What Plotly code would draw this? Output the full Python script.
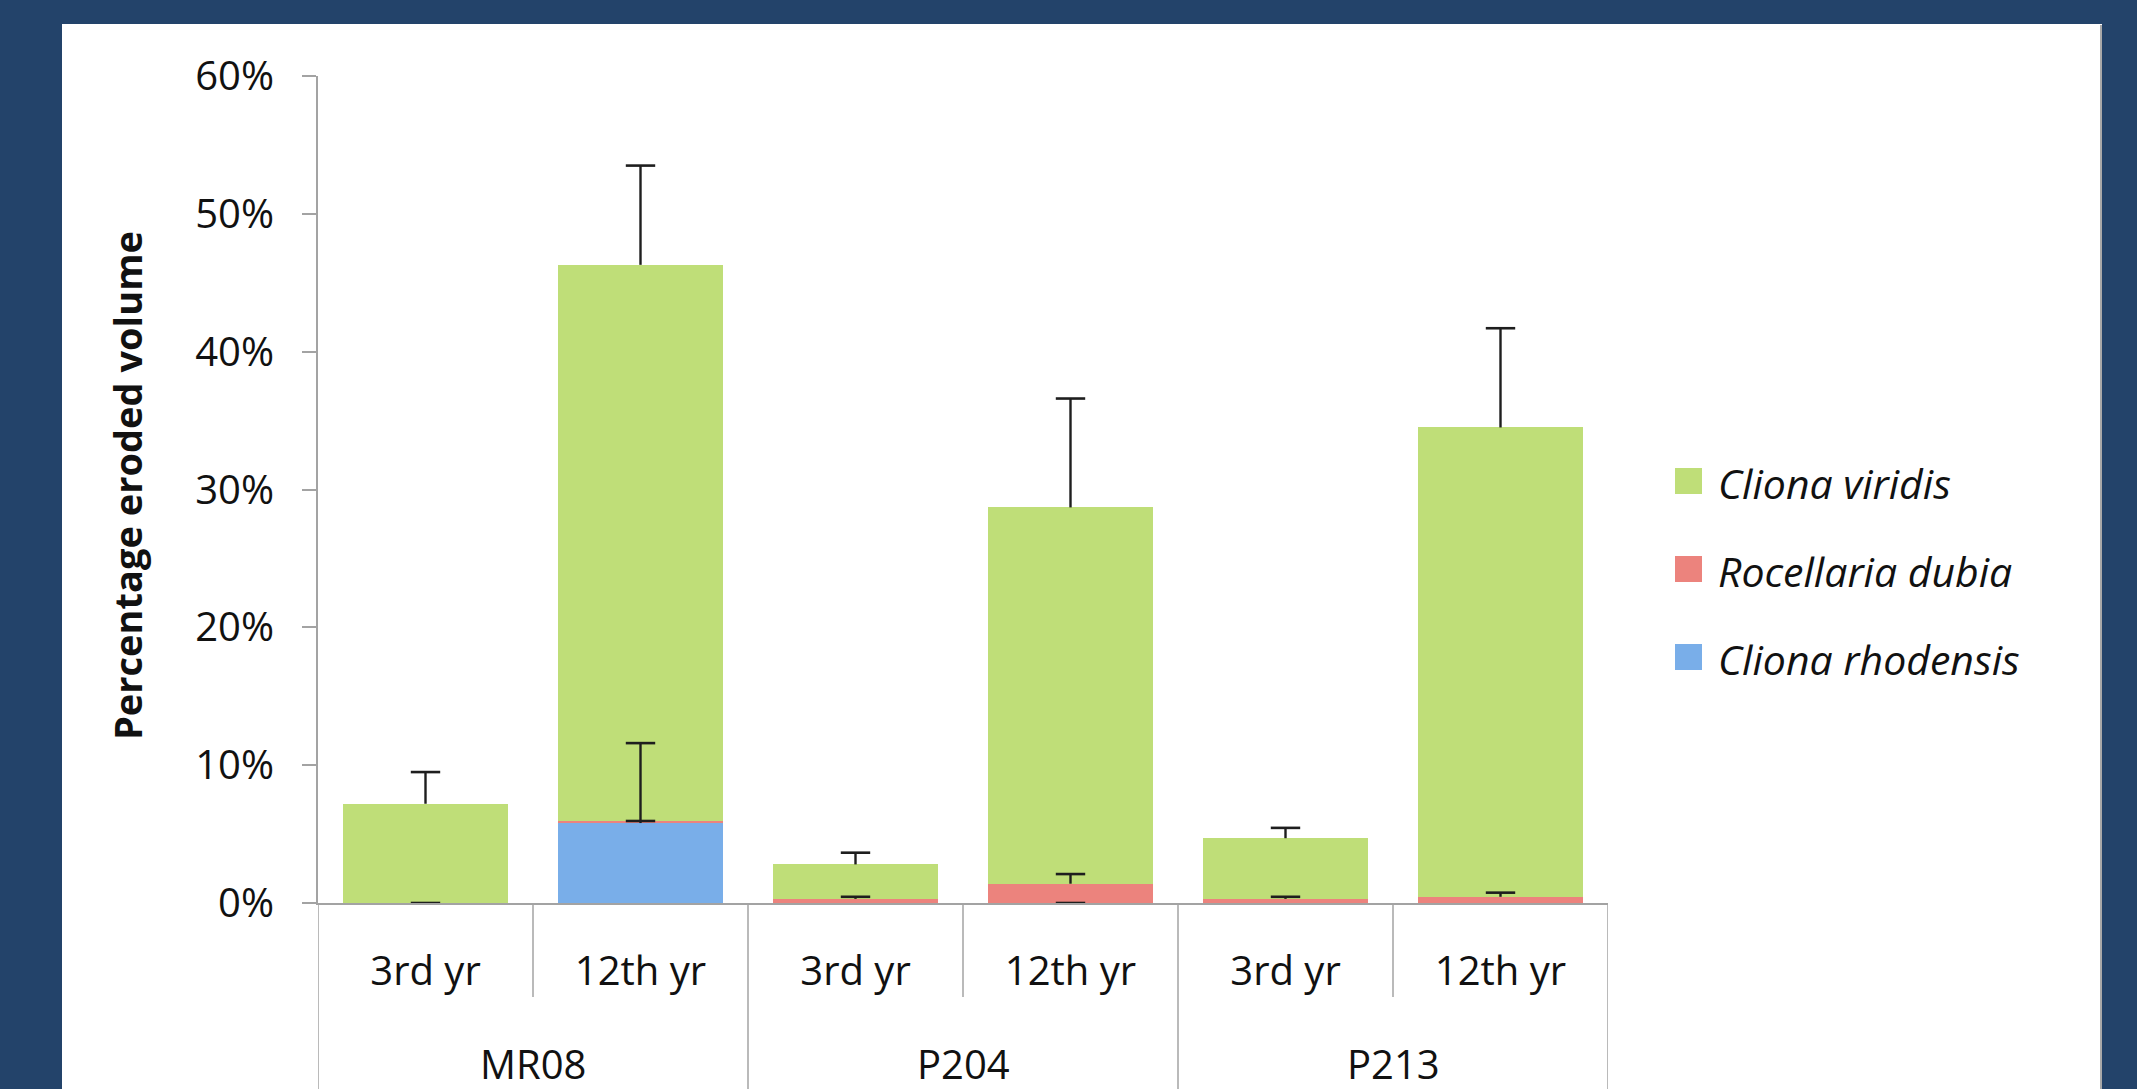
import plotly.graph_objects as go

# ---- data ----
groups = ["MR08", "P204", "P213"]
years = ["3rd yr", "12th yr", "3rd yr", "12th yr", "3rd yr", "12th yr"]
series_names = ["Cliona rhodensis", "Rocellaria dubia", "Cliona viridis"]

rhodensis = [0.0, 5.8, 0.0, 0.0, 0.0, 0.0]
rhodensis_err = [None, 5.8, None, 0.0, None, None]
dubia = [0.0, 0.15, 0.3, 1.4, 0.3, 0.45]
dubia_err = [0.0, 0.0, 0.15, 0.7, 0.15, 0.3]
viridis = [7.2, 40.35, 2.5, 27.3, 4.4, 34.05]
viridis_err = [2.3, 7.2, 0.85, 7.9, 0.75, 7.2]

y_ticks = [0, 10, 20, 30, 40, 50, 60]
y_ticktext = [f"{v}%" for v in y_ticks]

# ---- styling ----
W, H = 2137, 1089
L, R, T, B = 318, 1608, 76, 903
BG = "#23436A"
AX = "#A3A3A3"
FONT = "Open Sans"
TXT = "#111111"
colors = ["#79AEE9", "#EC837D", "#BFDE78"]

def px(xp):
    return (xp - L) / (R - L)

def py(yp):
    return (B - yp) / (B - T)

xpos = list(range(len(years)))
values = [rhodensis, dubia, viridis]
errors = [rhodensis_err, dubia_err, viridis_err]

fig = go.Figure()
base = [0.0] * len(years)
err_traces = []
for name, vals, err, col in zip(series_names, values, errors, colors):
    fig.add_trace(go.Bar(
        x=xpos, y=vals, name=name, showlegend=False,
        marker=dict(color=col, line=dict(width=0)),
    ))
    tops = [b + v for b, v in zip(base, vals)]
    ex, ey, em = [], [], []
    for i, e in enumerate(err):
        if e is None:
            continue
        ex.append(xpos[i])
        ey.append(tops[i] + e)
        em.append(e)
    err_traces.append(go.Scatter(
        x=ex, y=ey, mode="markers", showlegend=False, hoverinfo="skip",
        marker=dict(symbol="line-ew", size=21, line=dict(color="#1E1E1E", width=2.6)),
        error_y=dict(type="data", array=[0] * len(em), arrayminus=em, symmetric=False,
                     color="#1E1E1E", thickness=2.4, width=0),
    ))
    base = tops
for t in err_traces:
    fig.add_trace(t)

shapes = []
# white panel
shapes.append(dict(type="rect", xref="paper", yref="paper", layer="below",
                   x0=px(62), x1=px(2102), y0=py(1200), y1=py(24),
                   fillcolor="white", line=dict(width=0)))
shapes.append(dict(type="line", xref="paper", yref="paper", layer="below",
                   x0=px(2101), x1=px(2101), y0=py(1200), y1=py(25),
                   line=dict(color="#A9A9A9", width=2)))
# category dividers below the axis
for i in range(len(years) + 1):
    xv = i - 0.5
    long_line = (i % 2 == 0)
    shapes.append(dict(type="line", xref="x", yref="paper",
                       x0=xv, x1=xv, y0=0, y1=py(1200) if long_line else py(997),
                       line=dict(color=AX, width=1.5)))

annotations = []
# group labels
for gi, g in enumerate(groups):
    annotations.append(dict(x=2 * gi + 0.5, xref="x", y=py(1063), yref="paper",
                            text=g, showarrow=False, xanchor="center", yanchor="middle",
                            height=40, valign="middle", borderpad=0,
                            font=dict(family=FONT, size=40, color=TXT)))
# y-axis title
annotations.append(dict(x=px(127), xref="paper", y=py(486), yref="paper",
                        text="<b>Percentage eroded volume</b>", textangle=-90,
                        showarrow=False, xanchor="center", yanchor="middle",
                        font=dict(family=FONT, size=38, color=TXT)))
# manual legend (top to bottom: viridis, dubia, rhodensis)
leg_rows = [481, 569, 657]
for row_y, idx in zip(leg_rows, [2, 1, 0]):
    shapes.append(dict(type="rect", xref="paper", yref="paper",
                       x0=px(1675), x1=px(1702), y0=py(row_y + 13), y1=py(row_y - 13),
                       fillcolor=colors[idx], line=dict(width=0)))
    annotations.append(dict(x=px(1716), xref="paper", y=py(row_y + 2), yref="paper",
                            text="<i>" + series_names[idx] + "</i>", showarrow=False,
                            xanchor="left", yanchor="middle",
                            font=dict(family=FONT, size=41, color=TXT)))

fig.update_layout(
    width=W, height=H,
    margin=dict(l=L, r=W - R, t=T, b=H - B, pad=0),
    paper_bgcolor=BG, plot_bgcolor="white",
    barmode="stack", bargap=0.233,
    showlegend=False,
    font=dict(family=FONT, size=40, color=TXT),
    shapes=shapes, annotations=annotations,
    xaxis=dict(range=[-0.5, len(years) - 0.5], tickvals=xpos, ticktext=years,
               showline=True, linecolor=AX, linewidth=2, showgrid=False, zeroline=False,
               ticks="", ticklabelstandoff=32, tickfont=dict(family=FONT, size=40, color=TXT)),
    yaxis=dict(range=[0, 60], tickvals=y_ticks, ticktext=y_ticktext,
               showline=True, linecolor=AX, linewidth=2, showgrid=False, zeroline=False,
               ticks="outside", ticklen=14, tickwidth=2, tickcolor=AX,
               ticklabelstandoff=20, tickfont=dict(family=FONT, size=40, color=TXT)),
)

fig.write_html("out.html")
